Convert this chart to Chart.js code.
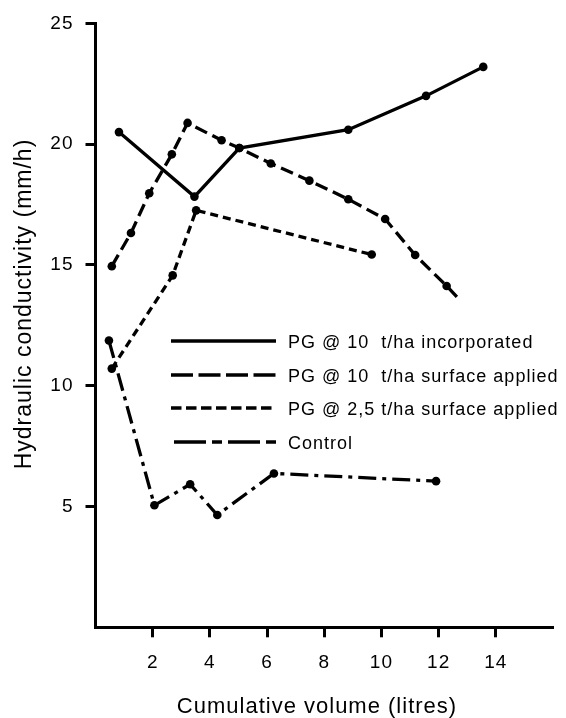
<!DOCTYPE html>
<html>
<head>
<meta charset="utf-8">
<script src="https://cdn.jsdelivr.net/npm/chart.js@4.4.1/dist/chart.umd.min.js"></script>
<style>
  html, body { margin: 0; padding: 0; background: #fff; }
</style>
</head>
<body>
<canvas id="chart" width="566" height="718"></canvas>
<script>
// Series (x = cumulative volume in litres, y = mm/h)
const seriesLabels = [
    'PG @ 10  t/ha incorporated',
    'PG @ 10  t/ha surface applied',
    'PG @ 2,5 t/ha surface applied',
    'Control'
];
const incorporatedX = [0.82, 3.46, 5.03, 8.84, 11.56, 13.56];
const incorporatedY = [20.5, 17.83, 19.84, 20.6, 22.0, 23.2];
const surface10X = [0.57, 1.24, 1.88, 2.67, 3.22, 4.41, 5.03, 6.13, 7.48, 8.84, 10.13, 11.18, 12.28, 12.69];
const surface10Y = [14.95, 16.32, 17.97, 19.58, 20.88, 20.16, 19.84, 19.2, 18.49, 17.72, 16.9, 15.41, 14.13, 13.61];
const surface25X = [0.57, 2.70, 3.52, 9.66];
const surface25Y = [10.71, 14.57, 17.26, 15.43];
const controlX = [0.47, 2.06, 3.31, 4.26, 6.24, 11.91];
const controlY = [11.87, 5.05, 5.92, 4.65, 6.37, 6.05];

const xTicks = [2, 4, 6, 8, 10, 12, 14];
const yTicks = [5, 10, 15, 20, 25];
const xTitle = 'Cumulative volume (litres)';
const yTitle = 'Hydraulic conductivity (mm/h)';

const FONT = "'Liberation Sans', Arial, sans-serif";
Chart.defaults.font.family = FONT;
Chart.defaults.color = '#000';

// Function to zip two arrays into {x, y} points
function toPoints(xs, ys) {
    return xs.map((x, i) => ({ x: x, y: ys[i] }));
}

function lineSet(label, xs, ys, dash, legendDash) {
    return {
        label: label,
        data: toPoints(xs, ys),
        borderColor: '#000',
        borderWidth: 3.3,
        borderDash: dash,
        legendDash: legendDash,
        pointRadius: 4.3,
        pointBackgroundColor: '#000',
        pointBorderWidth: 0,
        pointHoverRadius: 4.3,
        tension: 0,
        fill: false
    };
}

const datasets = [
    lineSet(seriesLabels[0], incorporatedX, incorporatedY, [], []),
    lineSet(seriesLabels[1], surface10X, surface10Y, [13, 6], [22, 5.5]),
    lineSet(seriesLabels[2], surface25X, surface25Y, [8, 5], [10.5, 4.5]),
    lineSet(seriesLabels[3], controlX, controlY, [18, 6, 4, 6], [32, 6, 10, 6])
];
// last point of the long-dash series is just where the line stops, no dot
datasets[1].pointRadius = ctx => ctx.dataIndex === surface10X.length - 1 ? 0 : 4.3;

// canvas letter spacing, the printed figure uses a wide face
const spacing = {
    id: 'spacing',
    beforeUpdate(chart) { chart.ctx.letterSpacing = '1px'; },
    beforeDraw(chart) { chart.ctx.letterSpacing = '1px'; }
};

// legend sits inside the plot area, axis titles placed like the print
const inlineLegend = {
    id: 'inlineLegend',
    afterDatasetsDraw(chart) {
        const ctx = chart.ctx;
        const rows = [341, 375, 408, 442];
        ctx.save();
        ctx.letterSpacing = '1px';
        chart.data.datasets.forEach((ds, i) => {
            ctx.beginPath();
            ctx.strokeStyle = '#000';
            ctx.lineWidth = 3.6;
            ctx.setLineDash(ds.legendDash);
            ctx.moveTo(i === 3 ? 174 : 171, rows[i]);
            ctx.lineTo(276, rows[i]);
            ctx.stroke();
            ctx.setLineDash([]);
            ctx.fillStyle = '#000';
            ctx.font = '18px ' + FONT;
            ctx.textBaseline = 'middle';
            ctx.textAlign = 'left';
            ctx.fillText(ds.label, 288, rows[i] + 2);
        });

        ctx.textAlign = 'center';
        ctx.textBaseline = 'middle';
        ctx.font = '22px ' + FONT;
        ctx.fillText(xTitle, 317, 707);
        ctx.translate(25, 304);
        ctx.rotate(-Math.PI / 2);
        ctx.font = '23px ' + FONT;
        ctx.fillText(yTitle, 0, 0);
        ctx.restore();
    }
};

const ctx = document.getElementById('chart').getContext('2d');
const chart = new Chart(ctx, {
    type: 'line',
    data: { datasets: datasets },
    plugins: [spacing, inlineLegend],
    options: {
        responsive: false,
        animation: false,
        layout: { padding: { top: 19, right: 13, left: 0, bottom: 0 } },
        plugins: {
            legend: { display: false },
            tooltip: { enabled: false }
        },
        scales: {
            x: {
                type: 'linear',
                min: 0,
                max: 16,
                afterBuildTicks: scale => { scale.ticks = xTicks.map(v => ({ value: v })); },
                afterFit: scale => { scale.height = 90.7; },
                grid: { drawOnChartArea: false, drawTicks: true, tickLength: 10, tickWidth: 3, tickColor: '#000' },
                border: { display: true, color: '#000', width: 3 },
                ticks: { padding: 14, font: { size: 19 }, maxRotation: 0, autoSkip: false }
            },
            y: {
                type: 'linear',
                min: 0,
                max: 25,
                afterBuildTicks: scale => { scale.ticks = yTicks.map(v => ({ value: v })); },
                afterFit: scale => { scale.width = 95.5; },
                grid: { drawOnChartArea: false, drawTicks: true, tickLength: 10, tickWidth: 3, tickColor: '#000' },
                border: { display: true, color: '#000', width: 3 },
                ticks: { padding: 12, font: { size: 19 }, autoSkip: false }
            }
        }
    }
});
</script>
</body>
</html>
